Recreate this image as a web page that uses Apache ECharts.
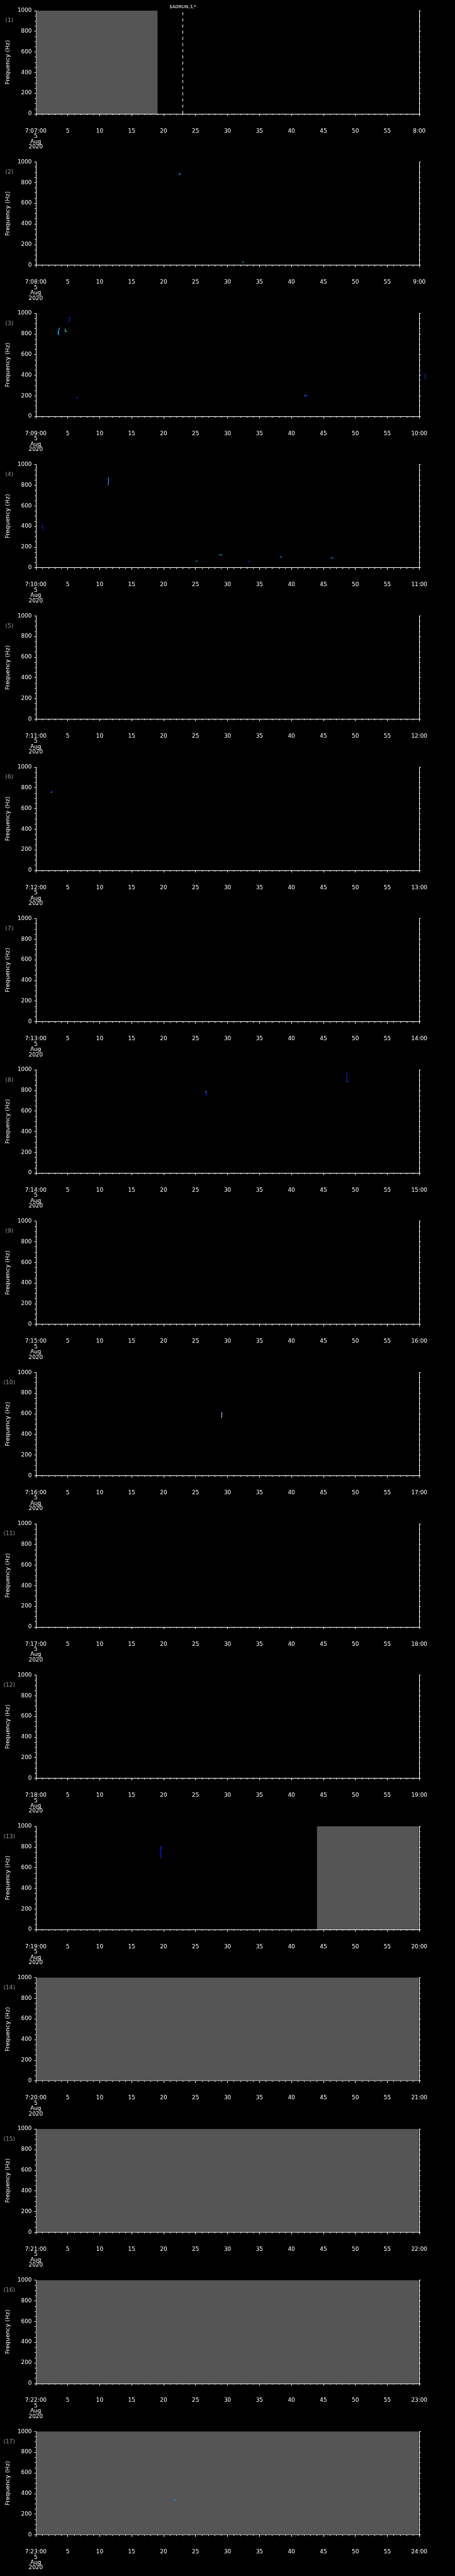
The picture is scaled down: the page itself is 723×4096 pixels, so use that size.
<!DOCTYPE html>
<html>
<head>
<meta charset="utf-8">
<script src="https://cdn.jsdelivr.net/npm/echarts@6/dist/echarts.min.js"></script>
<style>
  html, body { margin: 0; padding: 0; background: #000; }
  #chart { width: 723px; height: 4096px; }
</style>
</head>
<body>
<div id="chart"></div>
<script>
// one panel per minute of the run
const startTimes = ["7:07:00", "7:08:00", "7:09:00", "7:10:00", "7:11:00", "7:12:00", "7:13:00", "7:14:00", "7:15:00",
  "7:16:00", "7:17:00", "7:18:00", "7:19:00", "7:20:00", "7:21:00", "7:22:00", "7:23:00"];
const endTimes = ["8:00", "9:00", "10:00", "11:00", "12:00", "13:00", "14:00", "15:00", "16:00",
  "17:00", "18:00", "19:00", "20:00", "21:00", "22:00", "23:00", "24:00"];
const dateLines = ["5", "Aug", "2020"];
const panelNames = startTimes.map((_, i) => "(" + (i + 1) + ")");

// [panel, startSec, endSec]  -> grey "no data" blocks
const noDataSpans = [
  [0, 0.07, 19.05],
  [12, 44.0, 59.93],
  [13, 0.07, 59.93],
  [14, 0.07, 59.93],
  [15, 0.07, 59.93],
  [16, 0.07, 59.93],
];

// [panel, t0, t1, f0 (Hz), f1 (Hz), colour]
const signalBlips = [
  [1, 22.45, 22.6, 872, 893, "#1e90ff"],
  [1, 22.35, 22.45, 876, 882, "#1e90ff"],
  [1, 32.3, 32.55, 27, 35, "#00bfff"],

  [2, 3.45, 3.6, 788, 840, "#00bfff"],
  [2, 3.6, 3.75, 840, 860, "#1e90ff"],
  [2, 4.55, 4.65, 822, 852, "#40e0d0"],
  [2, 4.65, 4.95, 820, 826, "#40e0d0"],
  [2, 5.2, 5.3, 910, 960, "#0030ff"],
  [2, 5.3, 5.45, 955, 962, "#0030ff"],
  [2, 6.3, 6.65, 181, 188, "#0030ff"],
  [2, 41.95, 42.45, 195, 206, "#0050ff"],
  [2, 60.85, 60.95, 367, 418, "#0030ff"],
  [2, 60.95, 61.1, 364, 369, "#0050ff"],

  [3, 1.02, 1.12, 362, 420, "#0020ff"],
  [3, 11.3, 11.42, 798, 877, "#1e90ff"],
  [3, 25.0, 25.35, 61, 67, "#00bfff"],
  [3, 28.7, 29.15, 122, 129, "#00bfff"],
  [3, 33.15, 33.5, 57, 63, "#0040ff"],
  [3, 38.25, 38.5, 100, 110, "#1e90ff"],
  [3, 46.15, 46.6, 95, 99, "#00bfff"],

  [5, 2.4, 2.58, 757, 770, "#0030ff"],
  [5, 2.38, 2.5, 752, 758, "#ffff00"],

  [7, 26.5, 26.65, 785, 792, "#ffff00"],
  [7, 26.65, 26.8, 750, 788, "#0020ff"],
  [7, 48.6, 48.7, 885, 972, "#0030ff"],
  [7, 48.7, 48.9, 882, 888, "#1e90ff"],

  [9, 29.05, 29.15, 560, 612, "#d0d0ff"],
  [9, 29.05, 29.25, 608, 614, "#1e90ff"],
  [9, 29.0, 29.12, 556, 562, "#0040ff"],

  [12, 19.5, 19.62, 690, 810, "#0020ff"],
  [12, 19.6, 19.7, 780, 795, "#0040ff"],

  [16, 21.7, 21.9, 330, 345, "#1e90ff"],
];

// [panel, sec, text]
const commandMarks = [[0, 23, "$ADRUN,3,*"]];

const S = 0.705;
const plotLeft = 80 * S;
const plotWidth = 865 * S;
const firstTop = 24 * S;
const panelStep = 341.26 * S;
const plotHeight = 232.7 * S;
const FONT = "DejaVu Sans";
const GREY = "#555555";

function renderBox(params, api) {
  const a = api.coord([api.value(0), api.value(3)]);
  const b = api.coord([api.value(1), api.value(2)]);
  return {
    type: "rect",
    shape: {
      x: a[0],
      y: a[1],
      width: Math.max(1, b[0] - a[0]),
      height: Math.max(1, b[1] - a[1]),
    },
    style: { fill: api.visual("color") },
  };
}

const chart = echarts.init(document.getElementById("chart"), null, { renderer: "canvas" });

const grids = [];
const xAxes = [];
const yAxes = [];
const series = [];
const graphics = [];
const axisLine = { show: true, lineStyle: { color: "#fff", width: 1 } };

startTimes.forEach((start, i) => {
  const top = firstTop + i * panelStep;
  grids.push({ left: plotLeft, top: top, width: plotWidth, height: plotHeight, show: false });

  xAxes.push({
    gridIndex: i,
    type: "value",
    min: 0,
    max: 60,
    interval: 5,
    position: "bottom",
    offset: 24.3 * S,
    axisLine: axisLine,
    axisTick: { show: true, length: 4.7 * S, lineStyle: { color: "#fff" } },
    minorTick: { show: true, splitNumber: 5, length: 2.7 * S, lineStyle: { color: "#fff" } },
    splitLine: { show: false },
    minorSplitLine: { show: false },
    splitArea: { show: false },
    axisLabel: {
      color: "#fff",
      fontFamily: FONT,
      fontSize: 8.9,
      lineHeight: 12 * S,
      margin: 6,
      showMinLabel: true,
      showMaxLabel: true,
      formatter: (v) => {
        if (v === 0) return [start].concat(dateLines).join("\n");
        if (v === 60) return endTimes[i];
        return String(v);
      },
    },
  });

  yAxes.push({
    gridIndex: i,
    type: "value",
    min: 0,
    max: 1000,
    interval: 200,
    position: "left",
    name: "Frequency (Hz)",
    nameLocation: "middle",
    nameGap: 34,
    nameTextStyle: { color: "#fff", fontFamily: FONT, fontSize: 9.4 },
    axisLine: axisLine,
    axisTick: { show: true, length: 3.3 * S, lineStyle: { color: "#fff" } },
    minorTick: { show: true, splitNumber: 4, length: 2.3 * S, lineStyle: { color: "#fff" } },
    splitLine: { show: false },
    minorSplitLine: { show: false },
    splitArea: { show: false },
    axisLabel: {
      color: "#fff",
      fontFamily: FONT,
      fontSize: 8.9,
      margin: 9 * S,
      formatter: (v) => String(v),
    },
  });
  yAxes.push({
    gridIndex: i,
    type: "value",
    min: 0,
    max: 1000,
    interval: 200,
    position: "right",
    axisLine: axisLine,
    axisTick: { show: true, length: 3.3 * S, lineStyle: { color: "#fff" } },
    minorTick: { show: true, splitNumber: 4, length: 2.3 * S, lineStyle: { color: "#fff" } },
    splitLine: { show: false },
    minorSplitLine: { show: false },
    splitArea: { show: false },
    axisLabel: { show: false },
  });

  const boxes = [];
  noDataSpans
    .filter((s) => s[0] === i)
    .forEach((s) => boxes.push({ value: [s[1], s[2], 0, 1000], itemStyle: { color: GREY } }));
  signalBlips
    .filter((s) => s[0] === i)
    .forEach((s) => boxes.push({ value: [s[1], s[2], s[3], s[4]], itemStyle: { color: s[5] } }));

  series.push({
    type: "custom",
    xAxisIndex: i,
    yAxisIndex: 2 * i,
    clip: false,
    silent: true,
    renderItem: renderBox,
    data: boxes,
  });

  const marks = commandMarks.filter((m) => m[0] === i);
  if (marks.length) {
    series.push({
      type: "line",
      xAxisIndex: i,
      yAxisIndex: 2 * i,
      data: [],
      silent: true,
      markLine: {
        symbol: "none",
        silent: true,
        animation: false,
        lineStyle: { color: "#fff", width: 1, type: [4.7, 5.1] },
        label: {
          show: true,
          position: "end",
          distance: 2,
          color: "#fff",
          fontFamily: FONT,
          fontSize: 7,
          formatter: (p) => p.name,
        },
        data: marks.map((m) => ({ xAxis: m[1], name: m[2] })),
      },
    });
  }

  graphics.push({
    type: "text",
    x: 21 * S,
    y: top + 23 * S,
    style: {
      text: panelNames[i],
      fill: "#9a9a9a",
      font: "9px " + FONT,
      textAlign: "center",
      textVerticalAlign: "middle",
    },
  });
});

chart.setOption({
  backgroundColor: "#000",
  animation: false,
  grid: grids,
  xAxis: xAxes,
  yAxis: yAxes,
  series: series,
  graphic: graphics,
});
</script>
</body>
</html>
